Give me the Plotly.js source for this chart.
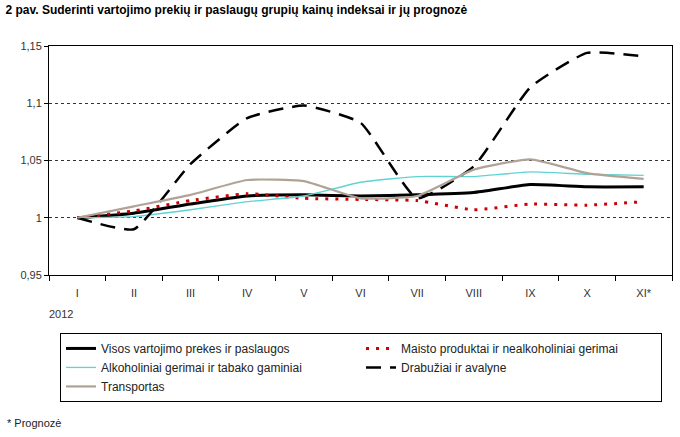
<!DOCTYPE html>
<html><head><meta charset="utf-8">
<script src="https://cdn.plot.ly/plotly-3.0.1.min.js"></script>
<style>html,body{margin:0;padding:0;background:#fff}#chart{width:680px;height:437px}</style>
</head><body><div id="chart"></div>
<script>
const months = ["I","II","III","IV","V","VI","VII","VIII","IX","X","XI*"];
const yearLabel = "2012";
const visos = [1.000,1.004,1.012,1.019,1.020,1.019,1.020,1.022,1.029,1.027,1.027];
const maisto = [1.000,1.006,1.015,1.021,1.017,1.016,1.015,1.007,1.012,1.011,1.014];
const alkoholiniai = [1.000,1.001,1.007,1.014,1.019,1.031,1.036,1.036,1.040,1.038,1.037];
const drabuziai = [1.000,0.990,1.047,1.087,1.098,1.083,1.017,1.045,1.114,1.144,1.141];
const transportas = [1.000,1.010,1.020,1.033,1.032,1.017,1.019,1.042,1.051,1.039,1.034];
const yTicks = [0.95,1,1.05,1.1,1.15];
const names = ["Visos vartojimo prekes ir paslaugos","Maisto produktai ir nealkoholiniai gerimai","Alkoholiniai gerimai ir tabako gaminiai","Drabužiai ir avalyne","Transportas"];

const font = "Liberation Sans, Arial, sans-serif";
const sm = 0.45;
const traces = [
  {y: visos, name: names[0], line:{color:"#000000", width:3, shape:"spline", smoothing:sm}},
  {y: maisto, name: names[1], line:{color:"#cc0000", width:3, dash:"3px,7px", shape:"spline", smoothing:sm}},
  {y: alkoholiniai, name: names[2], line:{color:"#5fd3d3", width:1.3, shape:"spline", smoothing:sm}},
  {y: drabuziai, name: names[3], line:{color:"#000000", width:2.5, dash:"15px,9px", shape:"spline", smoothing:sm}},
  {y: transportas, name: names[4], line:{color:"#b0a396", width:2.2, shape:"spline", smoothing:sm}}
].map(t => Object.assign({x: months, type:"scatter", mode:"lines", hoverinfo:"skip"}, t));

const layout = {
  width:680, height:437,
  margin:{l:49, r:8, t:46, b:162, autoexpand:false},
  paper_bgcolor:"#fff", plot_bgcolor:"#fff",
  separators:", ",
  font:{family:font, size:11, color:"#222"},
  title:{text:"<b>2 pav. Suderinti vartojimo prekių ir paslaugų grupių kainų indeksai ir jų prognozė</b>",
         x:0.008, xanchor:"left", y:0.988, yanchor:"top", font:{family:font, size:12, color:"#000"}},
  xaxis:{type:"category", tickson:"boundaries", ticks:"outside", ticklen:5, tickcolor:"#000",
         ticklabelstandoff:8,
         showline:true, linecolor:"#000", linewidth:1, mirror:true, showgrid:false, zeroline:false,
         tickfont:{family:font, size:11, color:"#333"}, fixedrange:true, range:[-0.5,10.5]},
  yaxis:{range:[0.95,1.15], tickvals:yTicks, ticks:"outside", ticklen:4, tickcolor:"#000",
         showline:true, linecolor:"#000", linewidth:1, mirror:true, showgrid:true,
         gridcolor:"#333", griddash:"dot", gridwidth:1, zeroline:false,
         tickfont:{family:font, size:11, color:"#333"}, fixedrange:true},
  showlegend:true,
  legend:{orientation:"h", x:0.0177, xanchor:"left", y:-0.253, yanchor:"top",
          bordercolor:"#000", borderwidth:1, bgcolor:"#fff",
          entrywidth:255, entrywidthmode:"pixels", traceorder:"normal",
          font:{family:font, size:12, color:"#222"}},
  annotations:[
    {text:yearLabel, xref:"paper", yref:"paper", x:-0.003, y:-0.135, xanchor:"left", yanchor:"top",
     showarrow:false, font:{family:font, size:11, color:"#333"}},
    {text:"* Prognozė", xref:"paper", yref:"paper", x:-0.071, y:-0.61, xanchor:"left", yanchor:"top",
     showarrow:false, font:{family:font, size:11, color:"#222"}}
  ]
};
Plotly.newPlot("chart", traces, layout, {displayModeBar:false, staticPlot:true});
</script></body></html>
